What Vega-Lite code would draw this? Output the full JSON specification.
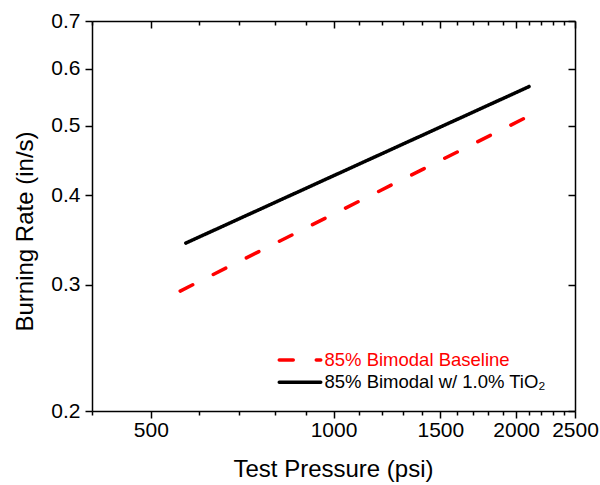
{
  "$schema": "https://vega.github.io/schema/vega-lite/v6.json",
  "width": 483,
  "height": 390,
  "autosize": "none",
  "padding": {"left": 92, "top": 21, "right": 25, "bottom": 74},
  "background": "white",
  "config": {"view": {"stroke": null}, "font": "Liberation Sans"},
  "data": {
    "values": [
      {"series": "85% Bimodal Baseline", "pressure": 559, "rate": 0.294},
      {"series": "85% Bimodal Baseline", "pressure": 2100, "rate": 0.516},
      {"series": "85% Bimodal w/ 1.0% TiO₂", "pressure": 571, "rate": 0.343},
      {"series": "85% Bimodal w/ 1.0% TiO₂", "pressure": 2100, "rate": 0.567}
    ]
  },
  "layer": [
    {
      "mark": {"type": "line", "strokeWidth": 3.5, "strokeCap": "round"},
      "encoding": {
        "x": {
          "field": "pressure", "type": "quantitative",
          "scale": {"type": "log", "domain": [400, 2500], "nice": false},
          "axis": {
            "orient": "bottom",
            "values": [400, 500, 600, 700, 800, 900, 1000, 1100, 1200, 1300, 1400, 1500, 1600, 1700, 1800, 1900, 2000, 2100, 2200, 2300, 2400, 2500],
            "format": "d",
            "labelExpr": "datum.value % 500 === 0 ? datum.label : ''",
            "tickSize": {"condition": {"test": "datum.value % 500 === 0", "value": 7}, "value": 4},
            "tickColor": "black", "tickWidth": 1.5,
            "domainColor": "black", "domainWidth": 1.5,
            "grid": false,
            "labelFont": "Liberation Sans", "labelFontSize": 21, "labelColor": "black",
            "labelPadding": 1, "labelFlush": false, "labelOverlap": false,
            "title": "Test Pressure (psi)",
            "titleFont": "Liberation Sans", "titleFontSize": 24, "titleFontWeight": "normal", "titleColor": "black",
            "titleX": 241, "titleY": 65.5, "titleBaseline": "alphabetic", "titleAlign": "center"
          }
        },
        "y": {
          "field": "rate", "type": "quantitative",
          "scale": {"type": "log", "domain": [0.2, 0.7], "nice": false},
          "axis": {
            "orient": "left",
            "values": [0.2, 0.3, 0.4, 0.5, 0.6, 0.7],
            "format": ".1f",
            "tickSize": 7, "tickColor": "black", "tickWidth": 1.5,
            "domainColor": "black", "domainWidth": 1.5,
            "grid": false,
            "labelFont": "Liberation Sans", "labelFontSize": 21, "labelColor": "black",
            "labelPadding": 5, "labelFlush": false, "labelOverlap": false,
            "title": "Burning Rate (in/s)",
            "titleFont": "Liberation Sans", "titleFontSize": 24, "titleFontWeight": "normal", "titleColor": "black",
            "titleAngle": -90, "titleX": -60, "titleY": 210, "titleBaseline": "alphabetic", "titleAlign": "center"
          }
        },
        "color": {
          "field": "series", "type": "nominal",
          "scale": {"domain": ["85% Bimodal Baseline", "85% Bimodal w/ 1.0% TiO₂"], "range": ["#ff0000", "#000000"]},
          "legend": {
            "title": null, "orient": "none", "legendX": 185.5, "legendY": 316.5,
            "values": ["85% Bimodal Baseline"],
            "symbolType": "stroke", "symbolSize": 1722, "symbolStrokeWidth": 3.5,
            "labelFont": "Liberation Sans", "labelFontSize": 18.5, "labelLimit": 400, "labelOffset": 2,
            "padding": 0,
            "encode": {
              "labels": {"update": {"fill": {"value": "#ff0000"}}},
              "symbols": {"update": {"strokeCap": {"value": "round"}, "strokeDash": {"value": [14, 23]}, "stroke": {"value": "#ff0000"}}}
            }
          }
        },
        "strokeDash": {
          "field": "series", "type": "nominal",
          "scale": {"domain": ["85% Bimodal w/ 1.0% TiO₂", "85% Bimodal Baseline"], "range": [[1, 0], [14, 23]]},
          "legend": {
            "title": null, "orient": "none", "legendX": 185.5, "legendY": 338.8,
            "values": ["85% Bimodal w/ 1.0% TiO₂"],
            "symbolType": "stroke", "symbolSize": 1722, "symbolStrokeWidth": 3.5,
            "labelFont": "Liberation Sans", "labelFontSize": 18.5, "labelLimit": 400, "labelOffset": 2,
            "padding": 0,
            "encode": {
              "labels": {"update": {"fill": {"value": "#000000"}}},
              "symbols": {"update": {"strokeCap": {"value": "round"}, "stroke": {"value": "#000000"}, "strokeDash": {"value": [1, 0]}}}
            }
          }
        }
      }
    },
    {
      "mark": {"type": "line", "opacity": 0},
      "encoding": {
        "x": {
          "field": "pressure", "type": "quantitative",
          "axis": {
            "orient": "top",
            "values": [400, 500, 600, 700, 800, 900, 1000, 1100, 1200, 1300, 1400, 1500, 1600, 1700, 1800, 1900, 2000, 2100, 2200, 2300, 2400, 2500],
            "labels": false, "title": null, "grid": false,
            "tickSize": {"condition": {"test": "datum.value % 500 === 0", "value": -7}, "value": -4},
            "tickColor": "black", "tickWidth": 1.5,
            "domainColor": "black", "domainWidth": 1.5
          }
        },
        "y": {
          "field": "rate", "type": "quantitative",
          "axis": {
            "orient": "right",
            "values": [0.2, 0.3, 0.4, 0.5, 0.6, 0.7],
            "labels": false, "title": null, "grid": false,
            "tickSize": -7, "tickColor": "black", "tickWidth": 1.5,
            "domainColor": "black", "domainWidth": 1.5
          }
        }
      }
    }
  ],
  "resolve": {"axis": {"x": "independent", "y": "independent"}}
}
